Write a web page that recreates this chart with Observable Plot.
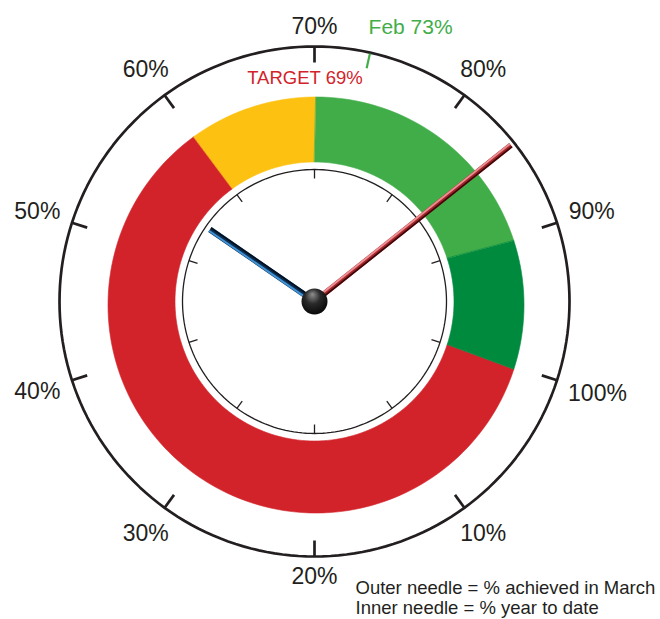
<!DOCTYPE html>
<html><head><meta charset="utf-8">
<script src="https://cdn.jsdelivr.net/npm/d3@7"></script>
<script src="https://cdn.jsdelivr.net/npm/@observablehq/plot@0.6"></script>
<style>body{margin:0;background:#fff}#chart{width:660px;height:619px}</style>
</head><body><div id="chart"></div>
<script>
// ---------- data ----------
const scaleTicks  = [10, 20, 30, 40, 50, 60, 70, 80, 90, 100];
const scaleLabels = ["10%", "20%", "30%", "40%", "50%", "60%", "70%", "80%", "90%", "100%"];
const bandNames = ["Below", "Near", "Good", "Excellent"];
const bandFrom  = [0, 60, 70, 90];
const bandTo    = [60, 70, 90, 100];
const marchAchieved = 84.3;   // outer needle
const yearToDate    = 54.6;   // inner needle
const targetValue = 69;
const targetLabel = "TARGET 69%";
const febValue = 73.5;
const febLabel = "Feb 73%";
const legendLines = ["Outer needle = % achieved in March", "Inner needle = % year to date"];

// ---------- styles / layout ----------
const bandColors = ["#d2232a", "#fdc111", "#41ad49", "#008a3e"];
const INK = "#231f20";
const W = 660, H = 619, CX = 314, CY = 301;
const R_OUT = 255, R_TICK_IN = 239;
const R_RING_OUT = 208, R_RING_IN = 139.5, RING_DX = 1.5, RING_DY = -3.5;
const R_DIAL = 132, R_DIAL_TICK = 123;
const R_LABEL = 267, LABEL_FS = 23;
const ang = v => (v - 70) * 3.6 * Math.PI / 180;
const px = (r, v) => r * Math.sin(ang(v));
const py = (r, v) => r * Math.cos(ang(v));

// band polygons
const bandRows = [];
bandNames.forEach((name, i) => {
  const n = Math.max(2, Math.round((bandTo[i] - bandFrom[i]) * 2));
  const outer = [], inner = [];
  for (let k = 0; k <= n; k++) {
    const v = bandFrom[i] + (bandTo[i] - bandFrom[i]) * k / n;
    outer.push({band: name, x: RING_DX + px(R_RING_OUT, v), y: RING_DY + py(R_RING_OUT, v)});
    inner.push({band: name, x: px(R_RING_IN, v), y: py(R_RING_IN, v)});
  }
  bandRows.push(...outer, ...inner.reverse());
});
const circle = r => d3.range(0, 100, 0.5).map(v => ({x: px(r, v), y: py(r, v)}));

// label centres (box-aware placement outside circle)
const labelPos = (v, i) => {
  const t = scaleLabels[i];
  const hw = ((t.length - 1) * 0.556 + 0.889) * LABEL_FS / 2;
  const hh = 0.716 * LABEL_FS / 2;
  const a = ang(v);
  const r = R_LABEL + hw * Math.abs(Math.sin(a)) + hh * Math.abs(Math.cos(a));
  return {x: r * Math.sin(a), y: r * Math.cos(a)};
};

function needle(value, len, base, baseW, hi, lo) {
  const a = ang(value);
  const ax = Math.cos(a), ay = Math.sin(a); // perpendicular (screen)
  const opts = (stroke, w, off) => ({
    x1: 0, y1: 0, x2: v => px(len, v), y2: v => py(len, v),
    stroke, strokeWidth: w, dx: off * ax, dy: off * ay, strokeLinecap: "butt"
  });
  return [
    Plot.link([value], opts(base, baseW, 0)),
    Plot.link([value], opts(hi, 2, -1.6)),
    Plot.link([value], opts(lo, 1.6, 1.9))
  ];
}

const svg = Plot.plot({
  width: W, height: H, margin: 0,
  style: {background: "#fff", fontFamily: "'Liberation Sans', Arial, Helvetica, sans-serif"},
  x: {domain: [-CX, W - CX], axis: null},
  y: {domain: [CY - H, CY], axis: null},
  color: {domain: bandNames, range: bandColors},
  marks: [
    Plot.line(bandRows, {x: "x", y: "y", z: "band", fill: "band", stroke: "band", strokeWidth: 0.6, curve: "linear-closed"}),
    Plot.line(circle(R_DIAL), {x: "x", y: "y", stroke: INK, strokeWidth: 1.3, curve: "linear-closed"}),
    Plot.link(scaleTicks, {x1: v => px(R_DIAL, v), y1: v => py(R_DIAL, v), x2: v => px(R_DIAL_TICK, v), y2: v => py(R_DIAL_TICK, v), stroke: INK, strokeWidth: 1.3}),
    Plot.line(circle(R_OUT), {x: "x", y: "y", stroke: INK, strokeWidth: 2.7, curve: "linear-closed"}),
    Plot.link(scaleTicks, {x1: v => px(R_OUT, v), y1: v => py(R_OUT, v), x2: v => px(R_TICK_IN, v), y2: v => py(R_TICK_IN, v), stroke: INK, strokeWidth: 2.7}),
    Plot.text(scaleTicks, {x: (v, i) => labelPos(v, i).x, y: (v, i) => labelPos(v, i).y, text: (v, i) => scaleLabels[i], fontSize: LABEL_FS, fill: INK}),
    Plot.link([febValue], {x1: v => px(R_OUT - 1, v), y1: v => py(R_OUT - 1, v), x2: v => px(R_OUT - 16, v), y2: v => py(R_OUT - 16, v), stroke: "#41ad49", strokeWidth: 2.2}),
    Plot.text([febValue], {x: v => px(280, v), y: v => py(280, v), text: () => febLabel, textAnchor: "start", dx: -7, dy: -1, fontSize: 21, fill: "#41ad49"}),
    Plot.text([targetValue], {x: v => px(224, v), y: v => py(224, v), text: () => targetLabel, textAnchor: "middle", dx: 4.5, fontSize: 18.5, fill: "#d2232a"}),
    ...needle(yearToDate, 127, "#0c2d50", 6, "#3f93d6", "#04101f"),
    ...needle(marchAchieved, 251, "#a3252b", 5.5, "#ec8f93", "#3a0809"),
    Plot.dot([0], {x: 0, y: 0, r: 13, fill: "url(#hubGrad)", stroke: "none"}),
    Plot.text(legendLines, {x: 41, y: (d, i) => -286.4 - i * 20, text: d => d, textAnchor: "start", fontSize: 18.5, fill: INK})
  ]
});
const defs = document.createElementNS("http://www.w3.org/2000/svg", "defs");
defs.innerHTML = '<radialGradient id="hubGrad" cx="0.45" cy="0.4" r="0.65" fx="0.42" fy="0.22"><stop offset="0" stop-color="#8f8f8f"/><stop offset="0.45" stop-color="#2a2a2a"/><stop offset="1" stop-color="#050505"/></radialGradient>';
svg.insertBefore(defs, svg.firstChild);
document.getElementById("chart").appendChild(svg);
</script>
</body></html>
